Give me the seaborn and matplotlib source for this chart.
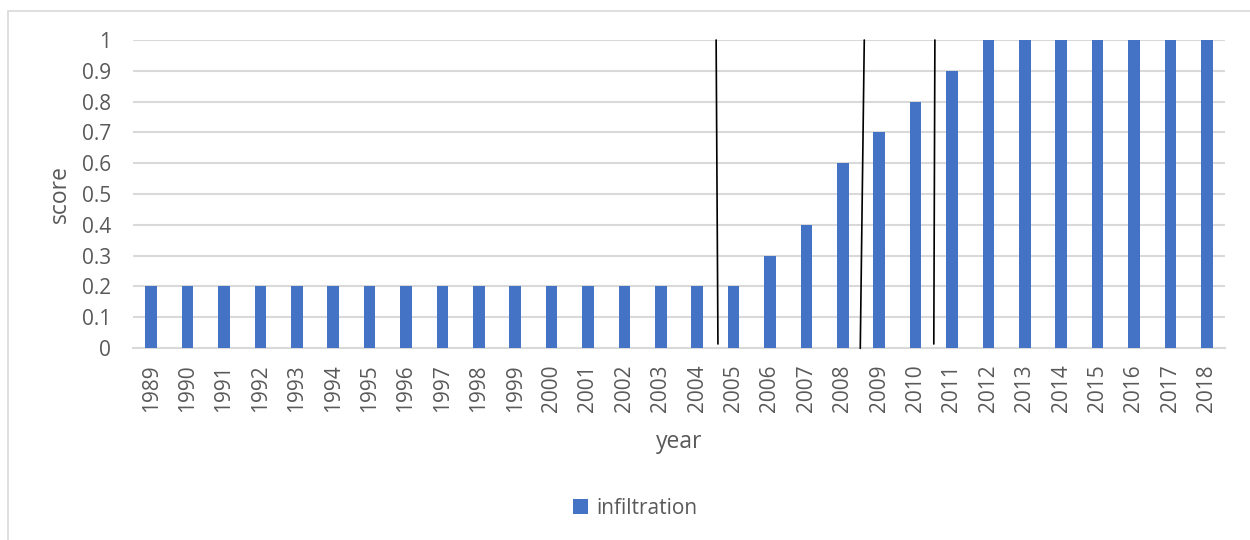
import matplotlib
matplotlib.use("Agg")
import matplotlib.pyplot as plt
from matplotlib.patches import Rectangle, Patch
import seaborn as sns
import pandas as pd

years = [str(y) for y in range(1989, 2019)]
scores = [0.2, 0.2, 0.2, 0.2, 0.2, 0.2, 0.2, 0.2, 0.2, 0.2,
          0.2, 0.2, 0.2, 0.2, 0.2, 0.2, 0.2, 0.3, 0.4, 0.6,
          0.7, 0.8, 0.9, 1.0, 1.0, 1.0, 1.0, 1.0, 1.0, 1.0]
series_name = "infiltration"

# hand-drawn period separators: (x at top, x at bottom, y at bottom) in category units
separators = [(15.52, 15.57, 0.013), (19.59, 19.48, -0.001), (21.53, 21.50, 0.013)]

df = pd.DataFrame({"year": years, "score": scores})

sns.set_theme(style="white")
plt.rcParams["font.family"] = ["Open Sans", "DejaVu Sans"]

bar_color = "#4472C4"
text_color = "#595959"
grid_color = "#D9D9D9"

fig = plt.figure(figsize=(12.5, 5.4), dpi=100)
fig.patch.set_facecolor("white")
# chart frame; its right and bottom edges run past the canvas
fig.patches.append(Rectangle((7.5 / 1250, -0.05), 1.2, 1 - 11 / 540 + 0.05,
                             transform=fig.transFigure, fill=False,
                             edgecolor=grid_color, linewidth=1.2, zorder=0))

ax = fig.add_axes([133 / 1250, 1 - 348 / 540, 1092 / 1250, 308 / 540])
sns.barplot(data=df, x="year", y="score", color=bar_color, width=0.32,
            saturation=1, linewidth=0, ax=ax, zorder=3)

ax.set_xlim(-0.5, len(years) - 0.5)
ax.set_ylim(0, 1)
yt = [i / 10 for i in range(11)]
ax.set_yticks(yt)
ax.set_yticklabels(["0" if v == 0 else ("1" if v == 1 else f"{v:.1f}") for v in yt])
ax.yaxis.grid(True, color=grid_color, linewidth=1.5, zorder=0)
ax.set_axisbelow(True)
for s in ["top", "right", "left"]:
    ax.spines[s].set_visible(False)
ax.spines["bottom"].set_color(grid_color)
ax.spines["bottom"].set_linewidth(1.5)

ax.tick_params(axis="y", length=0, pad=16, labelsize=15, labelcolor=text_color)
ax.tick_params(axis="x", length=0, pad=12, labelsize=15, labelcolor=text_color,
               labelrotation=90)

ax.set_xlabel("year", fontsize=16.5, color=text_color, labelpad=13)
ax.set_ylabel("score", fontsize=16.5, color=text_color, labelpad=7)

for xt, xb, yb in separators:
    ax.plot([xt, xb], [1.0, yb], color="black", linewidth=1.2, zorder=5,
            clip_on=False)

handle = Patch(facecolor=bar_color, edgecolor="none", label=series_name)
fig.legend(handles=[handle], loc="center", bbox_to_anchor=(635 / 1250, 1 - 508 / 540),
           frameon=False, fontsize=15, handlelength=0.7, handleheight=0.7,
           handletextpad=0.4, labelcolor=text_color)

fig.savefig("out.png", dpi=100)
